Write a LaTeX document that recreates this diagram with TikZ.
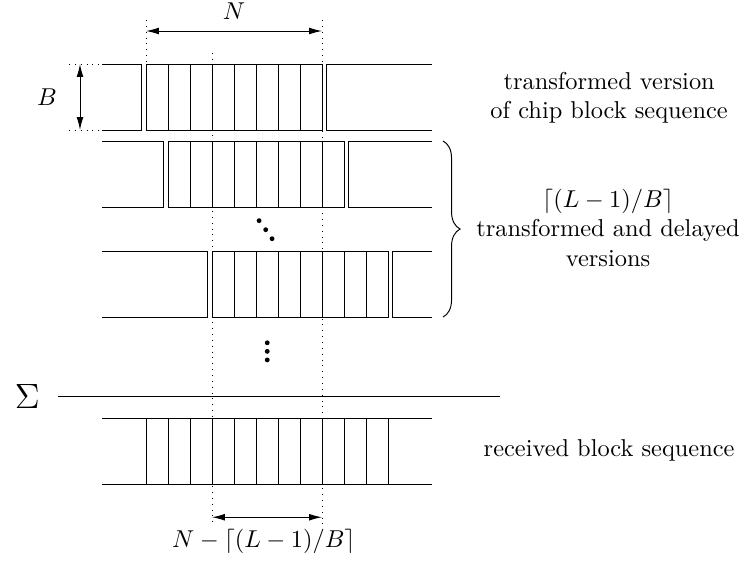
\documentclass[tikz,border=0pt]{standalone}
\usetikzlibrary{decorations.pathreplacing,arrows.meta}

% one unit = one chip
\tikzset{
  guide/.style={dotted},
  dimline/.style={{Latex[length=5.3pt,width=2.8pt]}-{Latex[length=5.3pt,width=2.8pt]}},
  lbl/.style={align=center,inner sep=1pt},
  dotmark/.style={fill=black}
}

% #1: delay in chips, #2: vertical offset of the row
\newcommand{\chiprow}[2]{%
  \begin{scope}[shift={(0,#2)}]
    \draw (-2,0) -- (#1-0.2,0) -- (#1-0.2,-3) -- (-2,-3);
    \draw (#1,0) rectangle (#1+8,-3);
    \foreach \k in {1,...,7} \draw (#1+\k,0) -- (#1+\k,-3);
    \draw (13,0) -- (#1+8.2,0) -- (#1+8.2,-3) -- (13,-3);
  \end{scope}}

\begin{document}
\begin{tikzpicture}[x=0.317cm,y=0.317cm]
  \useasboundingbox (-6.636,2.909) rectangle (27.18,-22.545);

  % guide lines
  \draw[guide] (0,2) -- (0,-3);
  \draw[guide] (3,0.5) -- (3,-20.9);
  \draw[guide] (8,2) -- (8,-20.9);
  \draw[guide] (-3.5,0) -- (-2,0);
  \draw[guide] (-3.5,-3) -- (-2,-3);

  % chip block sequences
  \chiprow{0}{0}
  \chiprow{1}{-3.5}
  \chiprow{3}{-8.5}

  % block length N
  \coordinate (nleft) at (0,1.5);
  \coordinate (nright) at (8,1.5);
  \draw[dimline] (nleft) -- (nright);
  \node (nlab) at (4,2.4) {$N$};

  % block size B
  \coordinate (btop) at (-3,0);
  \coordinate (bbot) at (-3,-3);
  \draw[dimline] (btop) -- (bbot);
  \node (blab) at (-4.5,-1.5) {$B$};

  % dots
  \fill[dotmark] (5.14,-7.12) circle (0.11);
  \fill[dotmark] (5.44,-7.53) circle (0.11);
  \fill[dotmark] (5.73,-7.94) circle (0.11);
  \foreach \y in {-12.67,-13.06,-13.45}
    \fill[dotmark] (5.51,\y) circle (0.11);

  % sum
  \coordinate (sumleft) at (-4,-15.1);
  \coordinate (sumright) at (16.1,-15.1);
  \draw (sumleft) -- (sumright);
  \node (sumlab) at (-5.4,-15.1) {\Large$\Sigma$};

  % received block sequence
  \draw (-2,-16.1) -- (13,-16.1);
  \draw (-2,-19.1) -- (13,-19.1);
  \foreach \k in {0,...,11} \draw (\k,-16.1) -- (\k,-19.1);

  \coordinate (rleft) at (3,-20.6);
  \coordinate (rright) at (8,-20.6);
  \draw[dimline] (rleft) -- (rright);
  \node (rlab) at (5.35,-21.7) {$N-\lceil (L-1)/B\rceil$};

  % brace
  \coordinate (brtop) at (13.5,-3.5);
  \coordinate (brbot) at (13.5,-11.5);
  \draw[decorate,decoration={brace,amplitude=7pt,aspect=0.5}] (brtop) -- (brbot);

  % descriptions
  \node[lbl] (first) at (21.05,-1.55) {transformed version\\of chip block sequence};
  \node[lbl] (delayed) at (21,-7.45) {$\lceil (L-1)/B\rceil$\\transformed and delayed\\versions};
  \node[lbl] (recv) at (21.05,-17.55) {received block sequence};
\end{tikzpicture}
\end{document}
